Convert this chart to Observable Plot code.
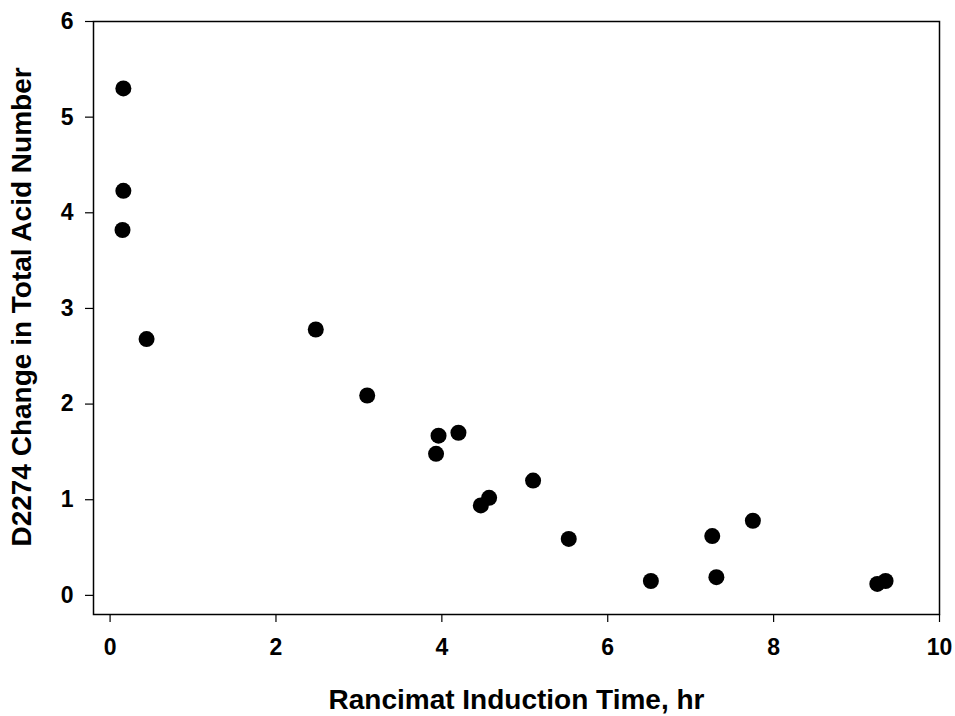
<!DOCTYPE html>
<html>
<head>
<meta charset="utf-8">
<script src="https://cdn.jsdelivr.net/npm/d3@7"></script>
<script src="https://cdn.jsdelivr.net/npm/@observablehq/plot@0.6"></script>
<style>
  html, body { margin: 0; padding: 0; background: #fff; }
</style>
</head>
<body>
<div id="chart"></div>
<script>
const inductionTime = [0.16, 0.16, 0.15, 0.44, 2.48, 3.10, 3.96, 4.20, 3.93, 5.10, 4.57, 4.47, 5.53, 6.52, 7.31, 7.26, 7.75, 9.25, 9.35];
const tanChange = [5.30, 4.23, 3.82, 2.68, 2.78, 2.09, 1.67, 1.70, 1.48, 1.20, 1.02, 0.94, 0.59, 0.15, 0.19, 0.62, 0.78, 0.12, 0.15];
const xTicks = [0, 2, 4, 6, 8, 10];
const yTicks = [0, 1, 2, 3, 4, 5, 6];
const xTitle = "Rancimat Induction Time, hr";
const yTitle = "D2274 Change in Total Acid Number";

const data = inductionTime.map((x, i) => ({x, y: tanChange[i]}));

const font = "'Liberation Sans', Arial, Helvetica, sans-serif";

const chart = Plot.plot({
  width: 955,
  height: 716,
  marginLeft: 93,
  marginRight: 16,
  marginTop: 21,
  marginBottom: 102,
  style: {fontFamily: font, fontWeight: "bold", color: "#000", background: "#fff"},
  x: {domain: [-0.2, 10]},
  y: {domain: [-0.2, 6]},
  marks: [
    Plot.frame({stroke: "#000", strokeWidth: 1.5}),
    Plot.axisX({ticks: xTicks, tickFormat: d3.format("d"), tickSize: 8, tickPadding: 16, fontSize: 23, label: null, stroke: "#000", strokeWidth: 1.2}),
    Plot.axisY({ticks: yTicks, tickFormat: d3.format("d"), tickSize: 8, tickPadding: 12, fontSize: 23, label: null, stroke: "#000", strokeWidth: 1.2}),
    Plot.dot(data, {x: "x", y: "y", r: 8, fill: "#000", stroke: null}),
    Plot.text([xTitle], {text: d => d, frameAnchor: "bottom", textAnchor: "middle", dy: 86, lineAnchor: "middle", fontSize: 28, fontWeight: "bold", fill: "#000"}),
    Plot.text([yTitle], {text: d => d, frameAnchor: "left", textAnchor: "middle", dx: -71, dy: -11, rotate: -90, lineAnchor: "middle", fontSize: 28, fontWeight: "bold", fill: "#000"})
  ]
});
document.getElementById("chart").appendChild(chart);
</script>
</body>
</html>
